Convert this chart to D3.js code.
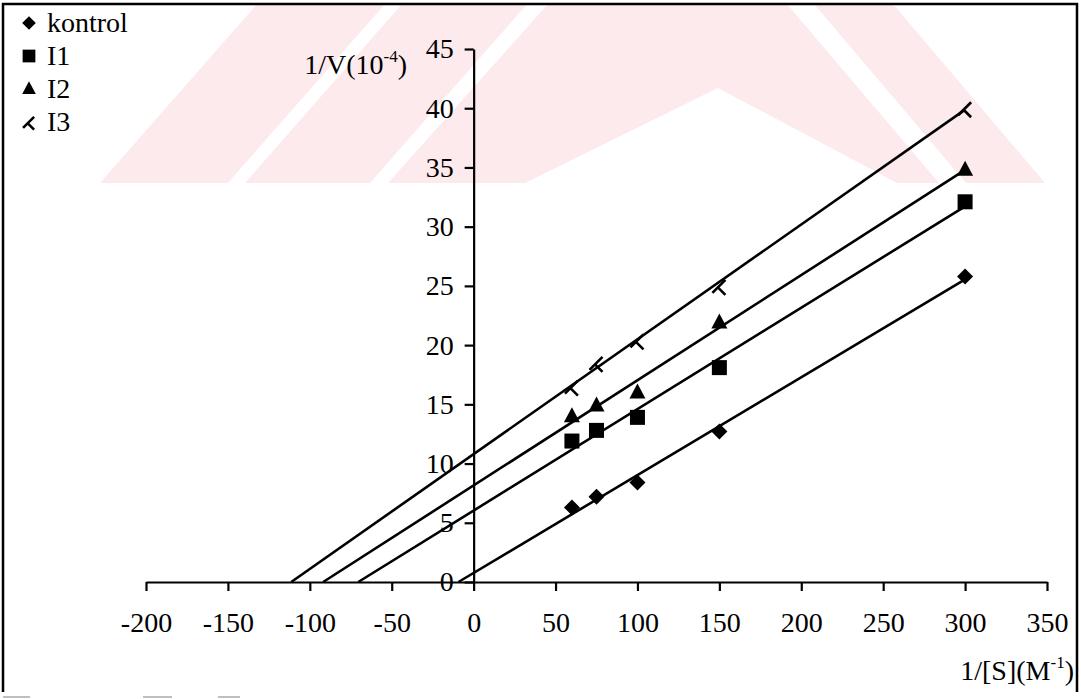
<!DOCTYPE html>
<html><head><meta charset="utf-8">
<script src="https://cdn.jsdelivr.net/npm/d3@7"></script>
<style>body{margin:0;background:#fff} svg text{font-family:"Liberation Serif","Times New Roman",serif;fill:#000}</style>
</head><body><svg id="c" width="1081" height="699"></svg>
<script>
// ---- data ----
const xValues = [60, 75, 100, 150, 300];
const seriesNames = ["kontrol", "I1", "I2", "I3"];
const kontrol = [6.3, 7.2, 8.4, 12.7, 25.8];
const I1 = [11.9, 12.8, 13.9, 18.1, 32.1];
const I2 = [14.0, 14.9, 16.0, 21.9, 34.8];
const I3 = [16.5, 18.5, 20.4, 25.0, 40.0];
const xTicks = [-200, -150, -100, -50, 0, 50, 100, 150, 200, 250, 300, 350];
const yTicks = [0, 5, 10, 15, 20, 25, 30, 35, 40, 45];

const seriesValues = [kontrol, I1, I2, I3];
const markers = ["diamond", "square", "triangle", "lambda"];

const svg = d3.select("#c");
const FONT = 28;

// watermark (decorative background)
const wm = svg.append("g").attr("fill", "#fdeaed");
const wmPolys = [
  [[100,183],[228,183],[385,4],[257,4]],
  [[245,183],[370,183],[527,4],[402,4]],
  [[388,183],[525,183],[718,88],[897,183],[939,183],[787,4],[548,4]],
  [[966,183],[1045,183],[893,4],[814,4]]
];
wm.selectAll("polygon").data(wmPolys).join("polygon")
  .attr("points", d => d.map(p => p.join(",")).join(" "));

// frame
svg.append("path").attr("d", "M3,692 L3,4 L1077,4 L1077,692")
  .attr("fill", "none").attr("stroke", "#000").attr("stroke-width", 2.5);
[[3, 30], [143, 172], [218, 240]].forEach(s =>
  svg.append("line").attr("x1", s[0]).attr("x2", s[1]).attr("y1", 697).attr("y2", 697)
    .attr("stroke", "#aaa").attr("stroke-width", 1.5));

const x = d3.scaleLinear().domain([-200, 350]).range([146, 1047]);
const y = d3.scaleLinear().domain([0, 45]).range([582, 49]);

// axes
const fmt = d => String(d);
const xAxis = svg.append("g").attr("transform", `translate(0,${y(0)})`)
  .call(d3.axisBottom(x).tickValues(xTicks).tickFormat(fmt).tickSize(9).tickPadding(41).tickSizeOuter(0));
const yAxis = svg.append("g").attr("transform", `translate(${x(0)},0)`)
  .call(d3.axisLeft(y).tickValues(yTicks).tickFormat(fmt).tickSize(9).tickPadding(11).tickSizeOuter(0));
[xAxis, yAxis].forEach(a => {
  a.select(".domain").attr("stroke", "#000").attr("stroke-width", 2.2);
  a.selectAll(".tick line").attr("stroke", "#000").attr("stroke-width", 2.2);
  a.selectAll(".tick text").attr("font-size", FONT).attr("font-family", "Liberation Serif").attr("fill", "#000");
});
xAxis.selectAll(".tick text").attr("dy", "0");

// regression lines
function fit(xs, ys) {
  const mx = d3.mean(xs), my = d3.mean(ys);
  let sxy = 0, sxx = 0;
  xs.forEach((v, i) => { sxy += (v - mx) * (ys[i] - my); sxx += (v - mx) ** 2; });
  const b = sxy / sxx; return { b, a: my - b * mx };
}
const lineGen = d3.line().x(d => x(d[0])).y(d => y(d[1]));
seriesValues.forEach(vals => {
  const f = fit(xValues, vals);
  const x0 = -f.a / f.b, x1 = d3.max(xValues);
  svg.append("path").attr("d", lineGen([[x0, 0], [x1, f.a + f.b * x1]]))
    .attr("fill", "none").attr("stroke", "#000").attr("stroke-width", 2.6);
});

// marker drawing
function drawMarker(g, type, cx, cy, s) {
  s = s || 1;
  if (type === "diamond") {
    g.append("path").attr("d", `M${cx},${cy-8*s} L${cx+8*s},${cy} L${cx},${cy+8*s} L${cx-8*s},${cy} Z`).attr("fill", "#000");
  } else if (type === "square") {
    g.append("rect").attr("x", cx - 7.5*s).attr("y", cy - 7.5*s).attr("width", 15*s).attr("height", 15*s).attr("fill", "#000");
  } else if (type === "triangle") {
    g.append("path").attr("d", `M${cx},${cy-9*s} L${cx+8*s},${cy+6*s} L${cx-8*s},${cy+6*s} Z`).attr("fill", "#000");
  } else {
    g.append("path").attr("d", `M${cx-7*s},${cy+7*s} L${cx+6*s},${cy-6*s} M${cx-2*s},${cy+1*s} L${cx+6*s},${cy+9*s}`)
      .attr("fill", "none").attr("stroke", "#000").attr("stroke-width", 2.6);
  }
}
const mk = svg.append("g");
seriesValues.forEach((vals, si) => {
  vals.forEach((v, i) => drawMarker(mk, markers[si], x(xValues[i]), y(v)));
});

// axis titles
const yt = svg.append("text").attr("x", 407).attr("y", 74).attr("text-anchor", "end").attr("font-size", FONT);
yt.append("tspan").text("1/V(10");
yt.append("tspan").text("-4").attr("font-size", 17).attr("dy", -12);
yt.append("tspan").text(")").attr("dy", 12);

const xt = svg.append("text").attr("x", 1074).attr("y", 680).attr("text-anchor", "end").attr("font-size", FONT);
xt.append("tspan").text("1/[S](M");
xt.append("tspan").text("-1").attr("font-size", 17).attr("dy", -12);
xt.append("tspan").text(")").attr("dy", 12);

// legend
const legBase = [32, 65, 98, 131];
const lg = svg.append("g");
seriesNames.forEach((n, i) => {
  drawMarker(lg, markers[i], 29, legBase[i] - 9, 0.85);
  lg.append("text").attr("x", 47).attr("y", legBase[i]).attr("font-size", FONT).text(n);
});
</script></body></html>
